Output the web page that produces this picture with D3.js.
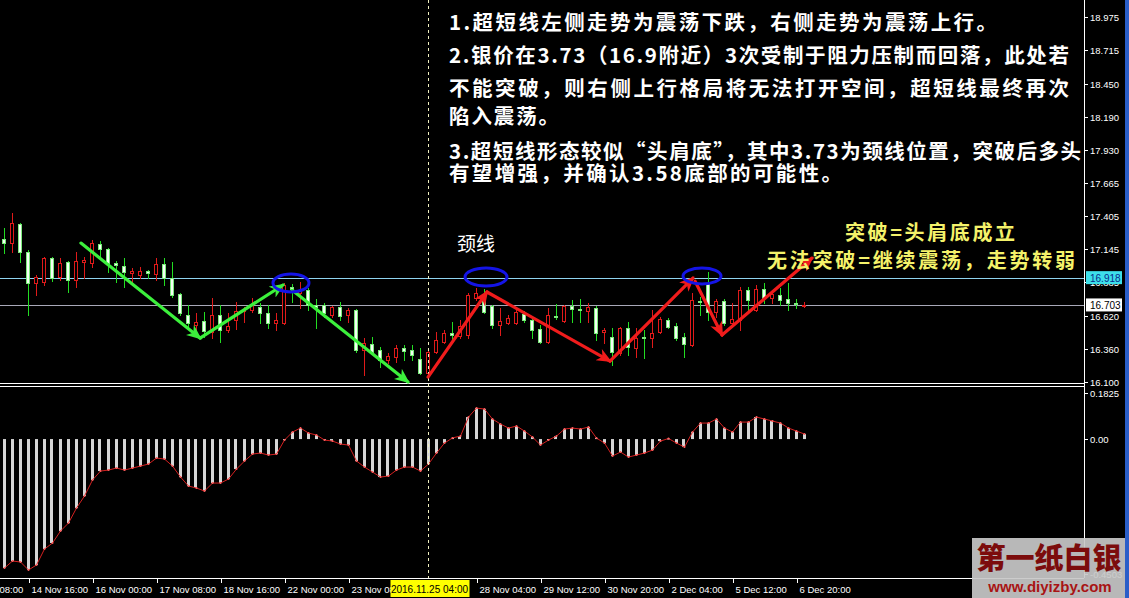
<!DOCTYPE html>
<html><head><meta charset="utf-8">
<script src="https://cdn.jsdelivr.net/npm/d3@7"></script>
<style>html,body{margin:0;padding:0;background:#000;overflow:hidden}</style>
</head><body><svg id="c" width="1129" height="598"></svg>
<script>
// ---------- DATA ----------
const opens  = [17.226,17.194,17.344,17.124,16.880,16.887,17.076,16.927,17.045,16.903,17.045,17.037,17.187,17.147,17.037,17.013,16.958,16.943,16.974,16.950,17.029,16.919,16.793,16.628,16.549,16.580,16.494,16.628,16.509,16.588,16.659,16.667,16.691,16.643,16.565,16.565,16.848,16.801,16.824,16.706,16.706,16.628,16.691,16.628,16.667,16.352,16.399,16.352,16.273,16.297,16.368,16.352,16.281,16.171,16.336,16.415,16.486,16.462,16.470,16.761,16.761,16.698,16.549,16.565,16.565,16.635,16.588,16.517,16.415,16.620,16.580,16.698,16.675,16.659,16.683,16.494,16.454,16.328,16.525,16.368,16.454,16.446,16.494,16.588,16.541,16.454,16.391,16.738,16.880,16.651,16.738,16.565,16.588,16.824,16.667,16.832,16.761,16.785,16.754,16.722,16.698];
const highs  = [17.313,17.431,17.352,17.139,16.943,17.084,17.084,17.076,17.050,17.124,17.084,17.218,17.210,17.155,17.053,17.076,16.998,17.006,16.980,17.076,17.076,17.045,16.798,16.706,16.643,16.651,16.761,16.706,16.643,16.730,16.691,16.761,16.722,16.706,16.643,16.880,16.872,16.887,16.840,16.754,16.722,16.700,16.730,16.683,16.675,16.446,16.454,16.376,16.328,16.391,16.391,16.391,16.368,16.352,16.494,16.509,16.572,16.588,16.801,16.840,16.832,16.706,16.683,16.628,16.667,16.659,16.620,16.549,16.683,16.714,16.706,16.746,16.754,16.722,16.698,16.525,16.525,16.533,16.572,16.525,16.509,16.667,16.612,16.604,16.565,16.486,16.801,16.769,16.966,16.754,16.754,16.722,16.848,16.848,16.864,16.880,16.824,16.840,16.880,16.754,16.730];
const lows   = [17.116,17.124,17.045,16.628,16.785,16.864,16.895,16.903,16.809,16.848,16.919,17.006,17.092,16.966,16.887,16.848,16.887,16.919,16.919,16.903,16.864,16.769,16.628,16.533,16.486,16.454,16.446,16.415,16.494,16.517,16.572,16.651,16.565,16.525,16.509,16.560,16.730,16.683,16.667,16.525,16.612,16.612,16.588,16.572,16.336,16.155,16.328,16.218,16.250,16.257,16.273,16.273,16.163,16.131,16.328,16.407,16.431,16.446,16.446,16.746,16.643,16.525,16.470,16.560,16.557,16.572,16.446,16.407,16.407,16.596,16.572,16.572,16.572,16.572,16.431,16.407,16.234,16.313,16.313,16.297,16.289,16.376,16.486,16.525,16.431,16.297,16.383,16.628,16.588,16.612,16.549,16.541,16.509,16.667,16.659,16.722,16.722,16.706,16.667,16.683,16.691];
const closes = [17.194,17.352,17.124,16.880,16.927,17.076,16.919,17.037,16.903,17.053,17.061,17.194,17.147,17.037,17.021,16.966,16.974,16.974,16.958,17.029,16.919,16.785,16.643,16.565,16.572,16.502,16.628,16.509,16.541,16.659,16.667,16.706,16.643,16.565,16.588,16.864,16.832,16.824,16.706,16.691,16.643,16.691,16.620,16.667,16.352,16.407,16.336,16.273,16.305,16.368,16.344,16.313,16.171,16.336,16.431,16.486,16.470,16.541,16.785,16.801,16.651,16.549,16.580,16.604,16.651,16.588,16.509,16.415,16.628,16.612,16.698,16.675,16.667,16.691,16.486,16.509,16.336,16.525,16.376,16.446,16.446,16.486,16.596,16.533,16.446,16.399,16.746,16.730,16.651,16.738,16.565,16.596,16.824,16.746,16.832,16.761,16.793,16.746,16.722,16.714,16.703];

const histValues = [-0.4435,-0.4194,-0.4228,-0.4503,-0.4331,-0.3781,-0.3575,-0.3163,-0.2888,-0.2372,-0.1959,-0.1409,-0.1100,-0.1066,-0.0997,-0.1066,-0.0997,-0.0928,-0.0859,-0.0653,-0.0688,-0.0928,-0.1306,-0.1616,-0.1684,-0.1788,-0.1513,-0.1513,-0.1375,-0.1031,-0.0756,-0.0516,-0.0481,-0.0550,-0.0516,-0.0034,0.0241,0.0378,0.0206,0.0138,-0.0034,-0.0069,-0.0172,-0.0206,-0.0756,-0.0963,-0.1134,-0.1306,-0.1272,-0.1066,-0.0963,-0.0963,-0.1100,-0.0859,-0.0481,-0.0138,0.0040,0.0103,0.0756,0.1066,0.1031,0.0688,0.0516,0.0378,0.0447,0.0275,0.0069,-0.0206,-0.0034,0.0103,0.0344,0.0378,0.0344,0.0413,0.0034,-0.0138,-0.0584,-0.0447,-0.0619,-0.0550,-0.0481,-0.0378,-0.0069,0.0020,-0.0138,-0.0275,0.0241,0.0550,0.0550,0.0688,0.0378,0.0241,0.0584,0.0584,0.0756,0.0688,0.0619,0.0550,0.0378,0.0275,0.0172];

const priceTicks = [18.975,18.715,18.450,18.190,17.930,17.665,17.405,17.145,16.885,16.620,16.360,16.100];
const oscTicks = [0.1825, 0.00, -0.4503];
const oscTickLabels = ["0.1825","0.00","-0.4503"];
const timeTickBars = [-5,3,11,19,27,35,43,59,67,75,83,91,99];
const timeTickLabels = ["11 Nov 08:00","14 Nov 16:00","16 Nov 00:00","17 Nov 08:00","18 Nov 16:00","22 Nov 00:00","23 Nov 08:00","28 Nov 04:00","29 Nov 12:00","30 Nov 20:00","2 Dec 04:00","5 Dec 12:00","6 Dec 20:00"];
const cursorBar = 53, cursorLabel = "2016.11.25 04:00";
const resistanceLevel = 16.918, lastPrice = 16.703;

// annotation arrows: [barFrom, priceFrom, barTo, priceTo]
const greenArrows = [[9.56,17.194,24.44,16.446],[24.44,16.446,34.81,16.864],[35.94,16.824,50.44,16.100]];
const redArrows = [[52.94,16.139,60.31,16.809],[60.31,16.809,75.69,16.265],[75.69,16.265,86.06,16.919],[86.31,16.895,89.69,16.470],[89.69,16.470,100.94,17.076]];
const ellipseCenters = [[35.81,16.880],[60.19,16.927],[87.19,16.935]];

const noteLines = ["1.超短线左侧走势为震荡下跌，右侧走势为震荡上行。","2.银价在3.73（16.9附近）3次受制于阻力压制而回落，此处若","不能突破，则右侧上行格局将无法打开空间，超短线最终再次","陷入震荡。","3.超短线形态较似“头肩底”，其中3.73为颈线位置，突破后多头","有望增强，并确认3.58底部的可能性。"];
const yellowLines = ["突破=头肩底成立","无法突破=继续震荡，走势转弱"];
const neckLabel = "颈线";

// ---------- LAYOUT ----------
const W = 1129, H = 598;
const axisX = 1084;
const svg = d3.select("#c");
svg.append("rect").attr("width",W).attr("height",H).attr("fill","#000");

const x = d3.scaleLinear().domain([0,100]).range([4.5,804.5]);
const y = d3.scaleLinear().domain([16.100,18.975]).range([382,17]);
const yo = d3.scaleLinear().domain([-0.4503,0.1825]).range([570,386]);

const snap = v => Math.round(v)+0.5;

// horizontal level lines
svg.append("line").attr("x1",0).attr("x2",axisX).attr("y1",snap(y(resistanceLevel))).attr("y2",snap(y(resistanceLevel)))
  .attr("stroke","#8fd3f0").attr("stroke-width",1);
svg.append("line").attr("x1",0).attr("x2",axisX).attr("y1",snap(y(lastPrice))).attr("y2",snap(y(lastPrice)))
  .attr("stroke","#a8a8b8").attr("stroke-width",1);

// candles
const idx = d3.range(opens.length);
const cg = svg.append("g");
idx.forEach(i=>{
  const o=opens[i],c=closes[i],h=highs[i],l=lows[i];
  const bull = c>o;
  const col = bull ? "#e01a1a" : "#22dd22";
  const cx = x(i);
  cg.append("line").attr("x1",cx).attr("x2",cx).attr("y1",Math.round(y(h))).attr("y2",Math.round(y(l))+1)
    .attr("stroke",col).attr("stroke-width",1);
  const top = Math.round(y(Math.max(o,c))), bot = Math.round(y(Math.min(o,c)));
  if (bot-top < 1) {
    cg.append("line").attr("x1",cx-2.5).attr("x2",cx+2.5).attr("y1",top+0.5).attr("y2",top+0.5).attr("stroke",col);
  } else {
    cg.append("rect").attr("x",cx-2).attr("y",top+0.5).attr("width",3).attr("height",bot-top)
      .attr("fill", bull ? "#000" : "#f4fff4").attr("stroke", bull ? "#e01a1a" : "#7bea7b").attr("stroke-width",1);
  }
});

// panel separators
svg.append("line").attr("x1",0).attr("x2",axisX).attr("y1",383.5).attr("y2",383.5).attr("stroke","#fff");
svg.append("line").attr("x1",0).attr("x2",axisX).attr("y1",386.5).attr("y2",386.5).attr("stroke","#fff");

// histogram
const hg = svg.append("g");
idx.forEach(i=>{
  const v = histValues[i];
  const y0 = yo(0), y1 = yo(v);
  hg.append("rect").attr("x",Math.round(x(i))-2).attr("width",3)
    .attr("y",Math.min(y0,y1)).attr("height",Math.max(1,Math.abs(y1-y0))).attr("fill","#d6d6d6");
});
const sig = d3.line().x((d,i)=>x(i)).y(d=>yo(d));
svg.append("path").attr("d",sig(histValues)).attr("fill","none").attr("stroke","#d42020").attr("stroke-width",1);
svg.append("g").selectAll("circle").data(histValues).join("circle")
  .attr("cx",(d,i)=>x(i)).attr("cy",d=>yo(d)).attr("r",1).attr("fill","#ff6060");

// vertical cursor line
svg.append("line").attr("x1",snap(x(cursorBar))-1).attr("x2",snap(x(cursorBar))-1).attr("y1",0).attr("y2",578)
  .attr("stroke","#f0f0c0").attr("stroke-dasharray","3,3");

// arrows
const defs = svg.append("defs");
function marker(id,color){
  defs.append("marker").attr("id",id).attr("viewBox","0 0 14 12").attr("refX",12).attr("refY",6)
    .attr("markerWidth",16).attr("markerHeight",13).attr("markerUnits","userSpaceOnUse").attr("orient","auto")
    .append("path").attr("d","M0,0 L14,6 L0,12 L4,6 Z").attr("fill",color);
}
marker("ag","#3cf03c"); marker("ar","#f01c1c");
function drawArrows(arr,color,mid){
  svg.append("g").selectAll("line").data(arr).join("line")
    .attr("x1",d=>x(d[0])).attr("y1",d=>y(d[1])).attr("x2",d=>x(d[2])).attr("y2",d=>y(d[3]))
    .attr("stroke",color).attr("stroke-width",3.2).attr("stroke-linecap","round").attr("marker-end",`url(#${mid})`);
}
drawArrows(greenArrows,"#3cf03c","ag");
drawArrows(redArrows,"#f01c1c","ar");

// ellipses
const er = [[18,9],[21,9],[19,8]];
svg.append("g").selectAll("ellipse").data(ellipseCenters).join("ellipse")
  .attr("cx",d=>x(d[0])).attr("cy",d=>y(d[1])).attr("rx",(d,i)=>er[i][0]).attr("ry",(d,i)=>er[i][1])
  .attr("fill","none").attr("stroke","#1414e6").attr("stroke-width",3);

// right axis
svg.append("line").attr("x1",axisX+0.5).attr("x2",axisX+0.5).attr("y1",0).attr("y2",578).attr("stroke","#fff");
const axFont = "'Liberation Sans', Arial, sans-serif";
const pt = svg.append("g");
priceTicks.forEach(p=>{
  const yy = Math.round(y(p))+0.5;
  pt.append("line").attr("x1",axisX).attr("x2",axisX+4).attr("y1",yy).attr("y2",yy).attr("stroke","#fff");
  pt.append("text").attr("x",axisX+6).attr("y",yy+3.5).text(p.toFixed(3))
    .attr("fill","#fff").attr("font-family",axFont).attr("font-size",9.5);
});
function priceBox(p,bg,fg){
  const yy = y(p);
  svg.append("rect").attr("x",axisX+2).attr("y",yy-7).attr("width",36).attr("height",13).attr("fill",bg);
  svg.append("text").attr("x",axisX+6).attr("y",yy+4).text(p.toFixed(3)).attr("fill",fg)
    .attr("font-family",axFont).attr("font-size",10);
}
priceBox(resistanceLevel,"#3de0ea","#0a2a8a");
priceBox(lastPrice,"#ffffff","#000");

oscTicks.forEach((v,i)=>{
  const yy = i===0 ? yo(v)+7 : (i===2 ? 574 : yo(v));
  svg.append("line").attr("x1",axisX).attr("x2",axisX+4).attr("y1",Math.round(yy)+0.5).attr("y2",Math.round(yy)+0.5).attr("stroke","#fff");
  svg.append("text").attr("x",axisX+6).attr("y",yy+3.5).text(oscTickLabels[i])
    .attr("fill","#fff").attr("font-family",axFont).attr("font-size",9.5);
});

// bottom time axis
svg.append("line").attr("x1",0).attr("x2",axisX).attr("y1",578.5).attr("y2",578.5).attr("stroke","#fff");
timeTickBars.forEach((b,i)=>{
  const xx = Math.round(x(b))+0.5;
  svg.append("line").attr("x1",xx).attr("x2",xx).attr("y1",578).attr("y2",583).attr("stroke","#fff");
  svg.append("text").attr("x",xx+2).attr("y",593).text(timeTickLabels[i])
    .attr("fill","#fff").attr("font-family",axFont).attr("font-size",9.5);
});
const cxp = x(cursorBar);
svg.append("rect").attr("x",cxp-38).attr("y",580).attr("width",79).attr("height",17).attr("fill","#ffff00");
svg.append("text").attr("x",cxp+1).attr("y",593).attr("text-anchor","middle").text(cursorLabel)
  .attr("fill","#000").attr("font-family",axFont).attr("font-size",10);

// notes
const cjk = "'Noto Sans CJK SC','Noto Sans',sans-serif";
const noteY = [30,63,96,124,159,181];
const noteLen = [548,620,620,110,632,393];
noteLines.forEach((t,i)=>{
  svg.append("text").attr("x",449).attr("y",noteY[i]).text(t)
    .attr("fill","#fff").attr("font-family",cjk).attr("font-weight","bold").attr("font-size",20.5)
    .attr("textLength",noteLen[i]).attr("lengthAdjust","spacing");
});
svg.append("text").attr("x",457).attr("y",251).text(neckLabel).attr("fill","#fff")
  .attr("font-family",cjk).attr("font-size",19);
const yl = [[845,240,170],[767,268,308]];
yellowLines.forEach((t,i)=>{
  svg.append("text").attr("x",yl[i][0]).attr("y",yl[i][1]).text(t).attr("fill","#f4f26a")
    .attr("font-family",cjk).attr("font-weight","bold").attr("font-size",20)
    .attr("textLength",yl[i][2]).attr("lengthAdjust","spacing");
});

// window border
svg.append("rect").attr("x",1125).attr("y",0).attr("width",4).attr("height",H).attr("fill","#2a5ec8");

// watermark
svg.append("rect").attr("x",972).attr("y",538).attr("width",153).attr("height",60).attr("fill","#c8c8c8").attr("opacity",0.92);
svg.append("text").attr("x",1049).attr("y",569).attr("text-anchor","middle").text("第一纸白银")
  .attr("fill","#7c0c0c").attr("font-family",cjk).attr("font-weight","900").attr("font-size",29);
svg.append("text").attr("x",1050).attr("y",592).attr("text-anchor","middle").text("www.diyizby.com")
  .attr("fill","#a81414").attr("font-family",axFont).attr("font-weight","bold").attr("font-size",15);
</script></body></html>
